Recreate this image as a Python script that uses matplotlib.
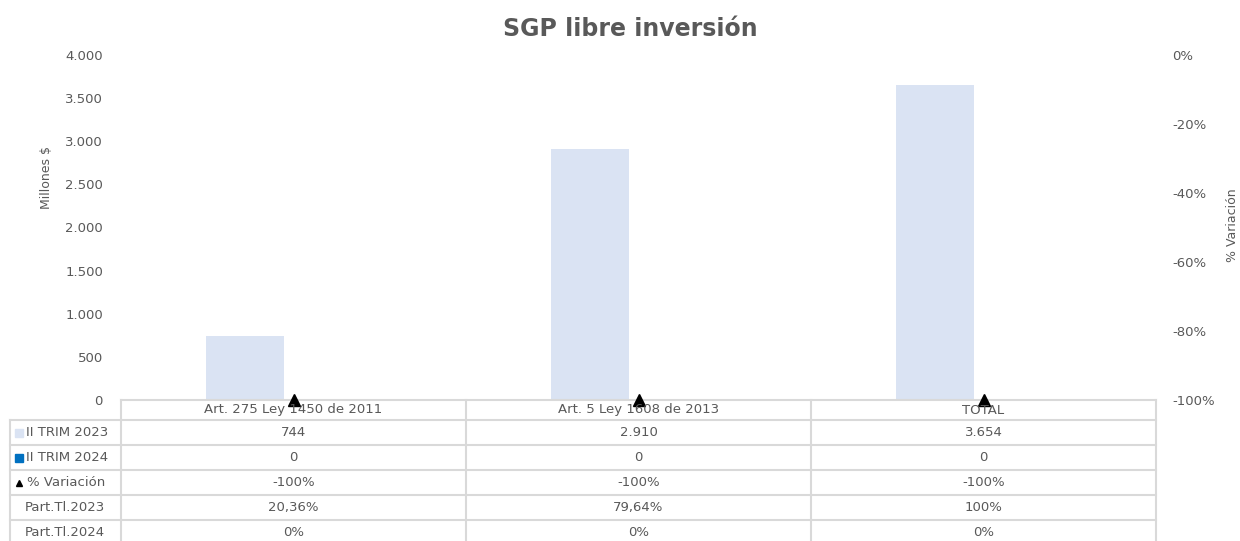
import matplotlib
matplotlib.use("Agg")
import matplotlib.pyplot as plt
from matplotlib.lines import Line2D
from matplotlib.patches import Rectangle
import numpy as np

categories = ["Art. 275 Ley 1450 de 2011", "Art. 5 Ley 1608 de 2013", "TOTAL"]
trim_2023 = [744, 2910, 3654]
trim_2024 = [0, 0, 0]
variacion = [-100, -100, -100]
part_2023 = ["20,36%", "79,64%", "100%"]
part_2024 = ["0%", "0%", "0%"]
left_ticks = [0, 500, 1000, 1500, 2000, 2500, 3000, 3500, 4000]
right_ticks = [-100, -80, -60, -40, -20, 0]

W, H = 1240, 541
GRAY = "#595959"
GRID = "#d9d9d9"
C1 = "#dae3f3"
C2 = "#0070c0"
plt.rcParams['font.family'] = ['DejaVu Sans']

fig = plt.figure(figsize=(W / 100, H / 100), dpi=100)

def fx(px):
    return px / W

def fy(py):
    return 1 - py / H

x0, x1, ytop, ybot = 121, 1156, 55, 400
ax = fig.add_axes([fx(x0), fy(ybot), fx(x1) - fx(x0), fy(ytop) - fy(ybot)])
ax2 = ax.twinx()

x = np.arange(len(categories))
bw = 0.225
ax.bar(x - 0.14, trim_2023, width=bw, color=C1, zorder=2)
ax.bar(x + 0.14, trim_2024, width=bw, color=C2, zorder=2)
ax.set_xlim(-0.5, len(categories) - 0.5)
ax.set_ylim(0, 4000)
ax.set_yticks(left_ticks)
ax.set_yticklabels([f"{v:,}".replace(",", ".") for v in left_ticks])
ax.set_xticks([])
for s in ["top", "right", "left"]:
    ax.spines[s].set_visible(False)
ax.spines["bottom"].set_color(GRID)
ax.spines["bottom"].set_linewidth(1.5)
ax.tick_params(axis="y", length=0, colors=GRAY, labelsize=9.5, pad=13)

ax2.plot(x, variacion, linestyle="none", marker="^", color="black", markersize=9, zorder=5, clip_on=False)
ax2.set_ylim(-100, 0)
ax2.set_yticks(right_ticks)
ax2.set_yticklabels([f"{v}%" for v in right_ticks])
for s in ["top", "right", "left", "bottom"]:
    ax2.spines[s].set_visible(False)
ax2.tick_params(axis="y", length=0, colors=GRAY, labelsize=9.5, pad=11.5)

fig.text(0.5 + 0.008, fy(29), "SGP libre inversión", ha="center", va="center",
         fontsize=17, fontweight="bold", color=GRAY)
fig.text(fx(46), fy(178), "Millones $", rotation=90, ha="center", va="center", fontsize=9, color=GRAY)
fig.text(fx(1232), fy(225), "% Variación", rotation=90, ha="center", va="center", fontsize=9, color=GRAY)

# ---- data table ----
cols = [121, 466, 811, 1156]
rows = [400, 420, 445, 470, 495, 520, 545]
lw = 1.5

def hline(y, xa, xb):
    fig.add_artist(Line2D([fx(xa), fx(xb)], [fy(y), fy(y)], color=GRID, lw=lw))

def vline(xp, ya, yb):
    fig.add_artist(Line2D([fx(xp), fx(xp)], [fy(ya), fy(yb)], color=GRID, lw=lw))

for r in rows[1:-1]:
    hline(r, 10, 1156)
for c in cols:
    vline(c, 400, 545)
vline(10, 420, 545)

for i, cat in enumerate(categories):
    cx = (cols[i] + cols[i + 1]) / 2
    fig.text(fx(cx), fy(410), cat, ha="center", va="center", fontsize=9.5, color=GRAY)

row_labels = ["II TRIM 2023", "II TRIM 2024", "% Variación", "Part.Tl.2023", "Part.Tl.2024"]
row_values = [
    [f"{v:,}".replace(",", ".") for v in trim_2023],
    [f"{v:,}".replace(",", ".") for v in trim_2024],
    [f"{v}%" for v in variacion],
    part_2023,
    part_2024,
]
for j, (lab, vals) in enumerate(zip(row_labels, row_values)):
    cy = (rows[j + 1] + rows[j + 2]) / 2
    if j == 4:
        cy = 533
    lx = 26 if j < 2 else (27 if j == 2 else 25)
    fig.text(fx(lx), fy(cy), lab, ha="left", va="center", fontsize=9.5, color=GRAY)
    for i, v in enumerate(vals):
        cx = (cols[i] + cols[i + 1]) / 2
        fig.text(fx(cx), fy(cy), v, ha="center", va="center", fontsize=9.5, color=GRAY)

# legend keys
for j, col in enumerate([C1, C2]):
    cy = (rows[j + 1] + rows[j + 2]) / 2
    fig.add_artist(Rectangle((fx(15), fy(cy + 4)), fx(8), fy(0) - fy(8), color=col))
cy3 = (rows[3] + rows[4]) / 2
fig.add_artist(Line2D([fx(19)], [fy(cy3)], marker="^", color="black", markersize=5, linestyle="none"))

fig.savefig("out.png", dpi=100)
